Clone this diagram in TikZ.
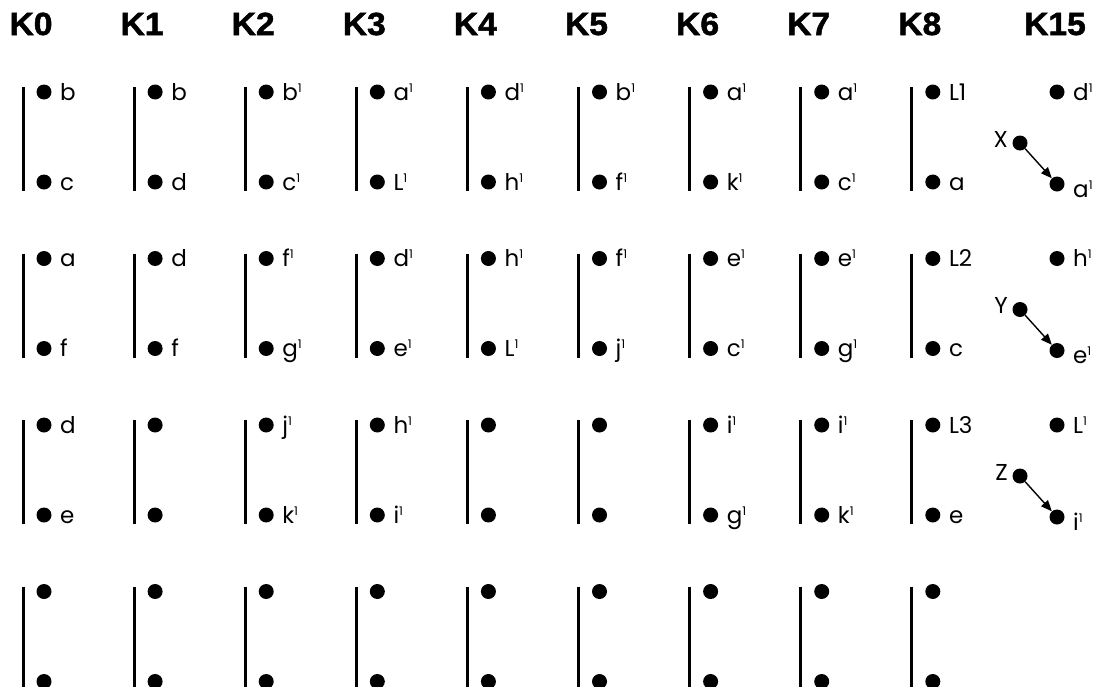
\documentclass[tikz,border=0pt]{standalone}
\usepackage{fontspec}
\setmainfont{Poppins}
\newfontfamily\headfont{Liberation Sans}[BoldFeatures={FakeBold=1.6,FakeStretch=1.05}]
\usetikzlibrary{arrows.meta}
\newcommand\sone{\raisebox{8pt}{\fontsize{12}{12}\selectfont 1}}
\tikzset{
  dot/.style={circle,fill=black,minimum size=15pt,inner sep=0pt},
  lab/.style={anchor=base west,inner sep=0pt,font=\fontsize{23}{23}\selectfont},
  xlab/.style={anchor=base east,inner sep=0pt,font=\fontsize{23}{23}\selectfont},
  head/.style={anchor=base,inner sep=0pt,font=\headfont\bfseries\fontsize{32}{32}\selectfont},
  bar/.style={line width=3pt},
  arr/.style={line width=1.4pt,-{Triangle[length=11pt,width=9pt]}},
}
\newcommand\pair[4]{%
  \pgfmathsetmacro\bx{23+111.1*#1}%
  \pgfmathsetmacro\ty{92+166.5*#2}%
  \node[dot] (t#1r#2) at (\bx+21,\ty) {};
  \node[dot] (b#1r#2) at (\bx+21,\ty+90) {};
  \node[lab] at ([xshift=16pt,yshift=-8pt]t#1r#2.center) {#3};
  \node[lab] at ([xshift=16pt,yshift=-8pt]b#1r#2.center) {#4};
  \coordinate (bt#1r#2) at ([xshift=-21pt,yshift=5pt]t#1r#2.center);
  \coordinate (bb#1r#2) at ([xshift=-21pt,yshift=-9pt]b#1r#2.center);
  \draw[bar] (bt#1r#2) -- (bb#1r#2);
}
\newcommand\kfift[4]{% row, top label, letter, bottom label
  \pgfmathsetmacro\ty{92+166.5*#1}%
  \node[dot] (ft#1) at (1057,\ty) {};
  \node[dot] (fs#1) at (1020,\ty+51) {};
  \node[dot] (fe#1) at (1057,\ty+92) {};
  \node[lab] at ([xshift=16pt,yshift=-8pt]ft#1.center) {#2};
  \node[xlab] at ([xshift=-12pt,yshift=-4pt]fs#1.center) {#3};
  \node[lab] at ([xshift=16pt,yshift=-13pt]fe#1.center) {#4};
  \draw[arr] (fs#1) -- (fe#1);
}
\begin{document}
\begin{tikzpicture}[x=1pt,y=-1pt]
\useasboundingbox (0,0) rectangle (1095,686);
\clip (0,0) rectangle (1095,686);
% headers
\foreach \i/\t in {0/K0,1/K1,2/K2,3/K3,4/K4,5/K5,6/K6,7/K7,8/K8}
  \node[head] (h\i) at (31+111.1*\i,35) {\t};
\node[head] (h15) at (1055,35) {K15};
% K0
\pair{0}{0}{b}{c}\pair{0}{1}{a}{f}\pair{0}{2}{d}{e}\pair{0}{3}{}{}
% K1
\pair{1}{0}{b}{d}\pair{1}{1}{d}{f}\pair{1}{2}{}{}\pair{1}{3}{}{}
% K2
\pair{2}{0}{b\sone}{c\sone}\pair{2}{1}{f\sone}{g\sone}\pair{2}{2}{j\sone}{k\sone}\pair{2}{3}{}{}
% K3
\pair{3}{0}{a\sone}{L\sone}\pair{3}{1}{d\sone}{e\sone}\pair{3}{2}{h\sone}{i\sone}\pair{3}{3}{}{}
% K4
\pair{4}{0}{d\sone}{h\sone}\pair{4}{1}{h\sone}{L\sone}\pair{4}{2}{}{}\pair{4}{3}{}{}
% K5
\pair{5}{0}{b\sone}{f\sone}\pair{5}{1}{f\sone}{j\sone}\pair{5}{2}{}{}\pair{5}{3}{}{}
% K6
\pair{6}{0}{a\sone}{k\sone}\pair{6}{1}{e\sone}{c\sone}\pair{6}{2}{i\sone}{g\sone}\pair{6}{3}{}{}
% K7
\pair{7}{0}{a\sone}{c\sone}\pair{7}{1}{e\sone}{g\sone}\pair{7}{2}{i\sone}{k\sone}\pair{7}{3}{}{}
% K8
\pair{8}{0}{L1}{a}\pair{8}{1}{L2}{c}\pair{8}{2}{L3}{e}\pair{8}{3}{}{}
% K15
\kfift{0}{d\sone}{X}{a\sone}
\kfift{1}{h\sone}{Y}{e\sone}
\kfift{2}{L\sone}{Z}{i\sone}
\end{tikzpicture}
\end{document}
